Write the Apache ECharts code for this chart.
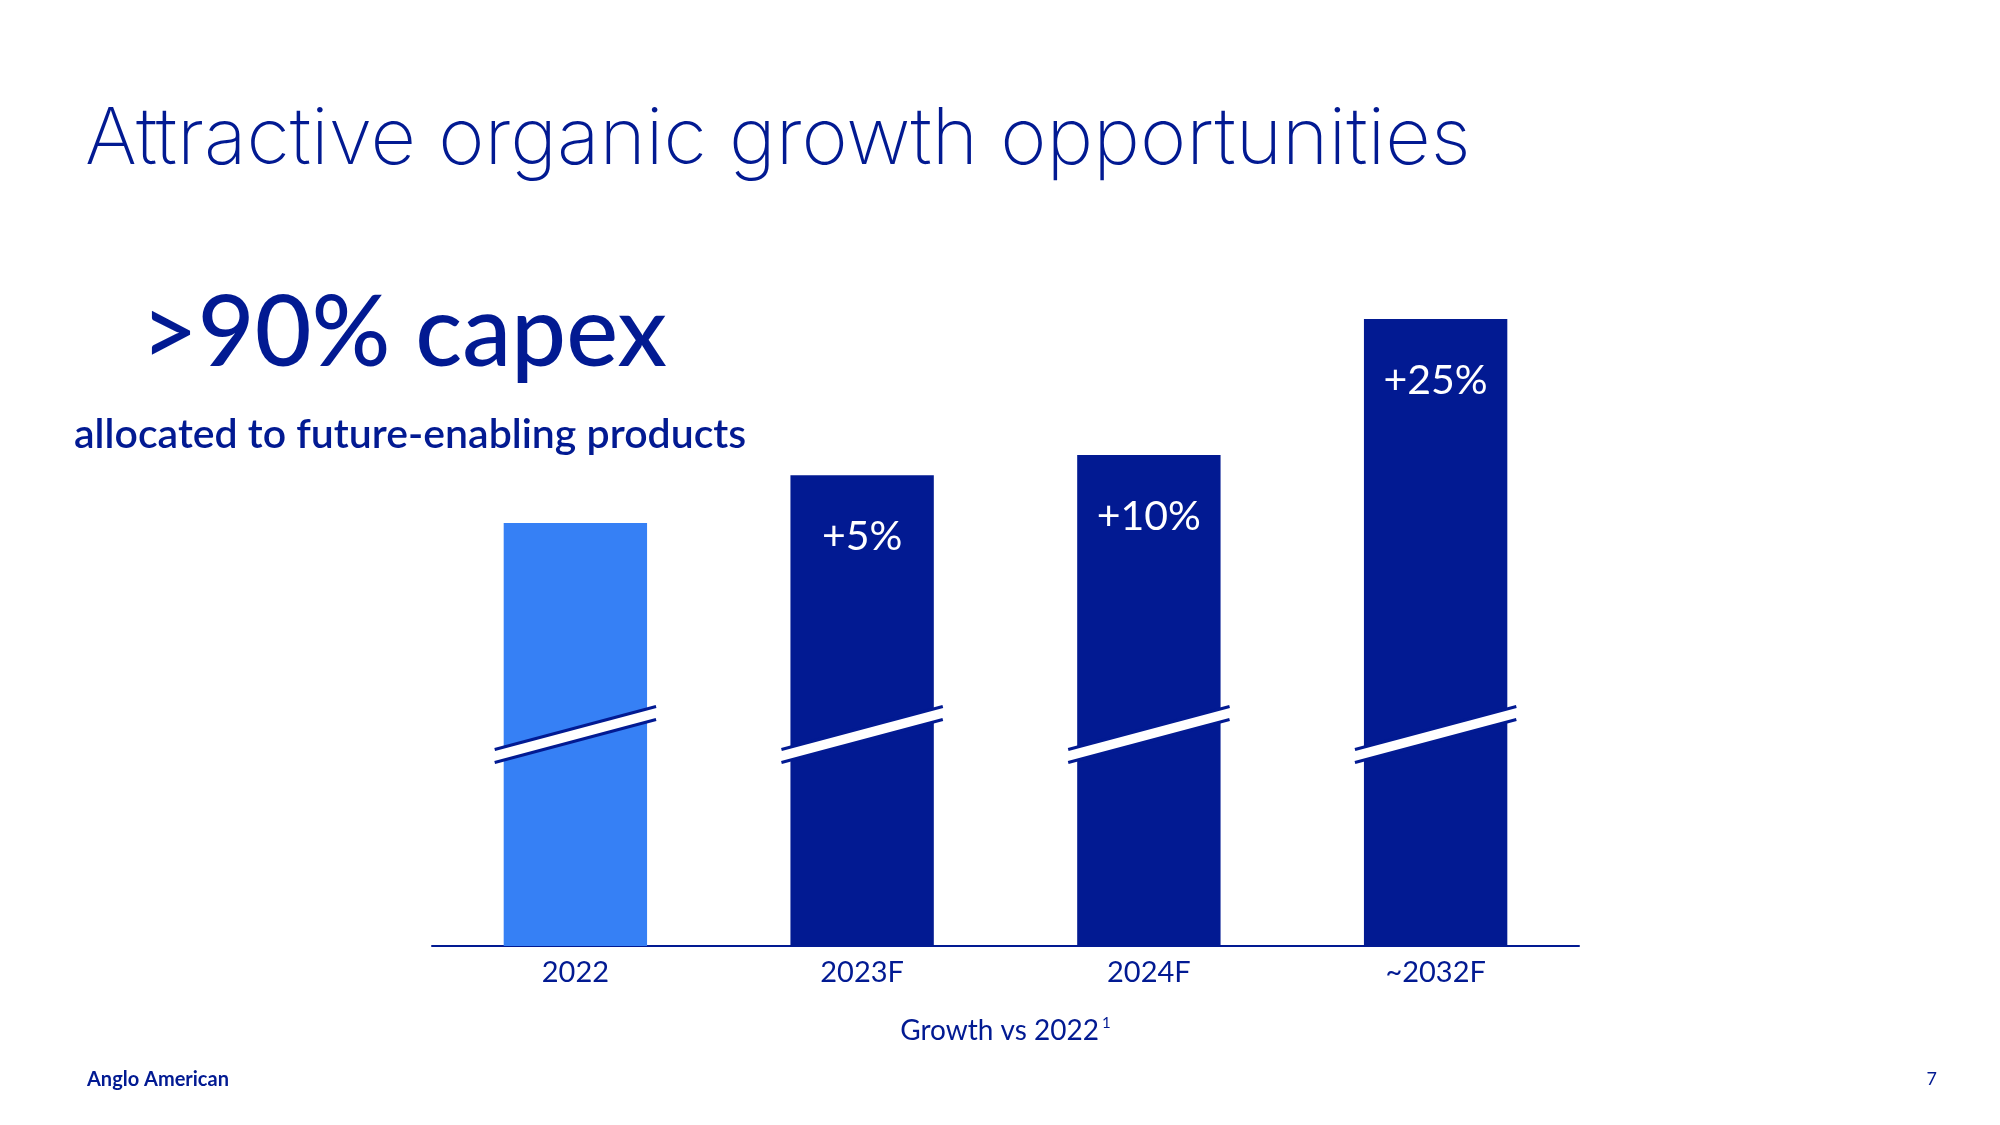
<!DOCTYPE html>
<html>
<head>
<meta charset="utf-8">
<script src="https://cdn.jsdelivr.net/npm/echarts@6/dist/echarts.min.js"></script>
<style>html,body{margin:0;padding:0;background:#fff;}#c{width:2000px;height:1125px;}</style>
</head>
<body>
<div id="c"></div>
<script>
// Data (bar heights indexed so 2022 = 100; axis is broken)
const categories = ['2022', '2023F', '2024F', '~2032F'];
const barValues = [100, 111.3, 116.1, 148.2];
const growthLabels = ['', '+5%', '+10%', '+25%'];
const breakValues = [50, 50, 50, 50];

const NAVY = '#021A92';
const LIGHT = '#3680F5';
const FONT = 'Lato, "Noto Sans", sans-serif';

const chart = echarts.init(document.getElementById('c'), null, {renderer: 'canvas'});

chart.setOption({
  backgroundColor: '#ffffff',
  animation: false,
  grid: {left: 432, right: 421, top: 311.5, bottom: 179, containLabel: false},
  xAxis: {
    type: 'category',
    data: categories,
    axisLine: {show: true, lineStyle: {color: NAVY, width: 2}},
    axisTick: {show: false},
    axisLabel: {color: NAVY, fontSize: 29, fontFamily: FONT, margin: 12},
    name: '{a|Growth vs 2022}{s|1}',
    nameLocation: 'middle',
    nameGap: 70,
    nameTextStyle: {
      rich: {
        a: {color: NAVY, fontSize: 28, fontFamily: FONT},
        s: {color: NAVY, fontSize: 15, fontFamily: FONT, padding: [0, 0, 14, 3]}
      }
    }
  },
  yAxis: {
    type: 'value', min: 0, max: 150, show: false,
    splitLine: {show: false}
  },
  series: [
    {
      type: 'bar',
      barWidth: '50%',
      data: barValues.map((v, i) => ({
        value: v,
        itemStyle: {color: i === 0 ? LIGHT : NAVY}
      })),
      label: {
        show: true,
        position: 'insideTop',
        distance: 41,
        color: '#ffffff',
        fontSize: 41,
        fontFamily: FONT,
        formatter: p => growthLabels[p.dataIndex]
      }
    },
    {
      type: 'custom',
      z: 10,
      data: breakValues.map((v, i) => [i, v]),
      renderItem: function (params, api) {
        const c = api.coord([api.value(0), api.value(1)]);
        const band = api.size([1, 0])[0];
        const half = band * 0.25 + 9;
        const slope = 0.267;
        const gap = 6.5;
        const x1 = c[0] - half, x2 = c[0] + half;
        const y1 = c[1] + half * slope, y2 = c[1] - half * slope;
        return {
          type: 'group',
          children: [
            {type: 'polygon', shape: {points: [[x1, y1 - gap], [x2, y2 - gap], [x2, y2 + gap], [x1, y1 + gap]]},
             style: {fill: '#ffffff'}},
            {type: 'line', shape: {x1: x1, y1: y1 - gap, x2: x2, y2: y2 - gap},
             style: {stroke: NAVY, lineWidth: 3}},
            {type: 'line', shape: {x1: x1, y1: y1 + gap, x2: x2, y2: y2 + gap},
             style: {stroke: NAVY, lineWidth: 3}}
          ]
        };
      }
    }
  ],
  graphic: [
    {type: 'text', position: [85, 140],
     style: {text: 'Attractive organic growth opportunities', fill: NAVY, font: '200 79px Inter, ' + FONT, textVerticalAlign: 'middle'}},
    {type: 'text', position: [141, 334],
     style: {text: '>90% capex', fill: NAVY, font: '500 98px ' + FONT, textVerticalAlign: 'middle'}},
    {type: 'text', position: [74, 435],
     style: {text: 'allocated to future-enabling products', fill: NAVY, font: '600 41px ' + FONT, textVerticalAlign: 'middle'}},
    {type: 'text', position: [87, 1080],
     style: {text: 'Anglo American', fill: NAVY, font: 'bold 20px ' + FONT, textVerticalAlign: 'middle'}},
    {type: 'text', position: [1937, 1079],
     style: {text: '7', fill: NAVY, font: '18px ' + FONT, textAlign: 'right', textVerticalAlign: 'middle'}}
  ]
});
</script>
</body>
</html>
